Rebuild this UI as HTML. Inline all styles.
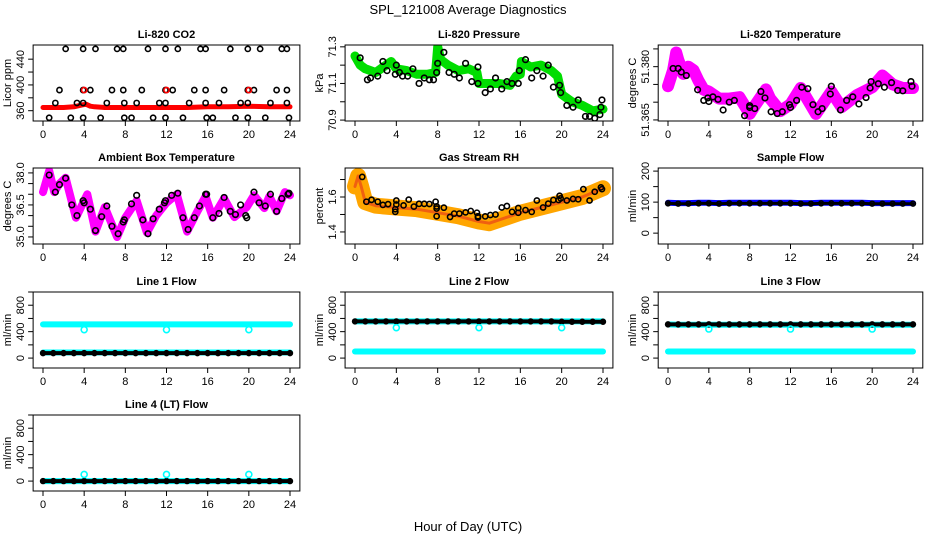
<!DOCTYPE html>
<html><head><meta charset="utf-8">
<style>
html,body{margin:0;padding:0;background:#fff;}
svg{display:block;font-family:"Liberation Sans",sans-serif;}
</style></head>
<body>
<svg id="chart" width="936" height="540" viewBox="0 0 936 540">
<defs id="defs"></defs>
<text x="468" y="14" text-anchor="middle" font-size="13">SPL_121008  Average Diagnostics</text>
<text x="468" y="531" text-anchor="middle" font-size="13">Hour of Day (UTC)</text>
</svg>
<script>
// ---------- data ----------
const hourTicks = [0,4,8,12,16,20,24];
const hourly = [0,1,2,3,4,5,6,7,8,9,10,11,12,13,14,15,16,17,18,19,20,21,22,23,24];

// CO2
const co2LineHours = [0,1,2,3,3.8,4.2,4.6,5,6,8,10,12,14,16,18,20,22,24];
const co2LineVals  = [365,365,365,366,369,370,367,366,365,365,365,365,365,366,366,367,366,366];
const co2TopHours = [2.2,3.9,5.1,7.2,7.8,10.2,11.9,13.1,15.3,15.8,18.2,19.9,21.1,23.2,23.7];
const co2MidHours = [1.6,3.9,4.6,6.7,7.8,9.6,11.9,12.6,14.7,15.8,17.6,19.9,20.5,22.7,23.7];
const co2LowHours = [1.2,3.3,3.9,6.2,7.9,9.1,11.3,11.9,14.2,15.8,17.1,19.2,19.9,22.1,23.7];
const co2BotHours = [0.6,2.7,3.9,5.6,7.9,8.6,10.7,11.9,13.6,15.9,16.5,18.7,19.9,21.6,23.9];
const co2Levels = [456,392,372,349];
const co2RedHours = [4,12,20];

// Pressure
const presBandHours = [0,0.5,1,2,3,3.5,4,5,6,7,7.8,8,8.3,9,10,11,11.8,12,13,14,15,15.6,16,16.1,17,18,19,19.6,20,21,22,23,24];
const presBandVals  = [71.25,71.2,71.18,71.16,71.2,71.22,71.18,71.17,71.15,71.15,71.16,71.3,71.23,71.2,71.17,71.18,71.16,71.1,71.1,71.1,71.09,71.14,71.15,71.22,71.19,71.2,71.17,71.14,71.04,71.0,70.98,70.95,70.96];
const presPtHours = [0.5,1.2,1.5,2.2,2.7,3.1,3.9,4,4.3,4.6,5.1,5.6,6.2,6.7,7.2,7.6,7.9,8,8.6,9.1,9.6,10.1,10.7,11.3,11.9,11.9,12.6,13.1,13.6,14.2,14.7,15.2,15.8,15.9,16.5,17.1,17.6,18.2,18.7,19.2,19.8,19.9,20.5,21.1,21.6,22.3,22.7,23.2,23.7,23.8,23.9];
const presPtVals  = [71.24,71.12,71.13,71.14,71.22,71.17,71.15,71.2,71.16,71.14,71.14,71.18,71.1,71.13,71.12,71.12,71.16,71.21,71.27,71.16,71.15,71.13,71.21,71.11,71.19,71.1,71.05,71.07,71.13,71.07,71.11,71.1,71.1,71.17,71.23,71.13,71.17,71.14,71.2,71.08,71.09,71.05,70.98,70.97,71.01,70.92,70.92,70.91,70.93,70.97,71.01];

// Li-820 temperature
const ltBandHours = [0,0.5,0.8,1,1.5,2,2.5,3,3.5,4,5,6,7,8,8.5,9.6,10,11,12,13,14.5,16,17,18.5,20,21,22,23,24];
const ltBandVals  = [51.3745,51.379,51.384,51.382,51.378,51.380,51.379,51.376,51.3735,51.373,51.371,51.371,51.3714,51.3667,51.369,51.3736,51.371,51.3675,51.3694,51.374,51.3667,51.373,51.3686,51.372,51.3742,51.3775,51.375,51.374,51.374];
const ltPtHours = [0.5,1,1.3,1.8,2.9,3.5,3.9,4,4.4,4.9,5.4,6,6.5,7.5,8,8,8.5,9.1,9.5,10.1,10.7,11.2,11.9,12,12.6,13.1,13.7,14.2,14.7,15.1,15.9,16,16.9,17.5,18.1,18.7,19.4,19.8,19.9,20.6,21.2,21.9,22.5,23,23.8,23.9];
const ltPtVals  = [51.3795,51.3795,51.3785,51.3775,51.3735,51.3705,51.3712,51.3702,51.3715,51.3708,51.3678,51.370,51.3705,51.3662,51.3685,51.369,51.3682,51.373,51.3712,51.3673,51.3668,51.3673,51.3693,51.3685,51.3705,51.3742,51.3738,51.3693,51.3673,51.3682,51.3723,51.3745,51.3678,51.3705,51.3715,51.3695,51.3713,51.374,51.3758,51.3752,51.3742,51.3755,51.3733,51.3732,51.3758,51.3745];

// Ambient box temperature
const abBandHours = [0,0.6,1.1,1.6,2.2,3.2,4.3,5.1,6,7.2,8,9.1,10.1,11,12,13,14,15,15.8,16.5,17.6,18.6,19.8,20.5,21.5,22,22.7,23.5,24];
const abBandVals  = [37.1,38.1,37.1,37.5,37.77,35.9,37.0,35.25,36.4,35.0,35.9,36.7,35.2,36.0,36.6,37.0,35.25,36.2,36.9,35.9,36.8,35.93,36.4,36.95,36.35,36.9,36.2,37.1,36.95];
const abPtHours = [0.6,1.2,1.6,2.2,2.8,3.3,3.9,4,4.6,5.1,5.7,6.2,6.7,7.3,7.8,7.9,8.6,9.1,9.7,10.2,10.7,11.3,11.8,11.9,12.5,13.1,13.6,14.1,14.7,15.2,15.8,15.9,16.5,17.1,17.6,18.2,18.7,19.2,19.7,19.8,20.5,21,21.6,22.1,22.7,23.2,23.8,23.9];
const abPtVals  = [37.9,37.1,37.45,37.75,36.5,36.0,36.7,36.6,36.3,35.3,35.95,36.45,35.5,35.15,35.7,35.8,36.55,36.95,35.8,35.15,35.85,36.3,36.6,36.7,36.95,37.05,35.9,35.35,35.9,36.45,37.0,37.0,35.9,36.1,36.85,36.2,36.05,36.5,36.0,35.9,37.1,36.6,36.45,37.0,36.2,36.8,37.0,37.05];

// Gas stream RH
const rhBandHours = [0,0.3,0.6,1,2,4,6,8,10,12,13,14,16,18,20,22,24];
const rhBandVals  = [1.66,1.72,1.66,1.57,1.55,1.54,1.53,1.51,1.49,1.46,1.45,1.47,1.51,1.54,1.57,1.6,1.65];
const rhPtHours = [0.7,1.1,1.6,2.2,2.7,3.2,3.9,3.9,4,4,4.7,5.2,5.7,6.2,6.7,7.2,7.8,7.9,7.9,7.9,8.6,9.2,9.6,10.1,10.7,11.2,11.8,11.9,11.9,12.6,13.1,13.6,14.2,14.7,15.2,15.8,15.8,16.5,17.1,17.6,18.2,18.7,19.2,19.7,19.8,19.9,20.5,21.1,21.6,22.1,22.7,23.2,23.8,23.9];
const rhPtVals  = [1.715,1.573,1.584,1.573,1.555,1.559,1.53,1.515,1.58,1.557,1.552,1.585,1.545,1.561,1.561,1.56,1.573,1.546,1.534,1.49,1.539,1.486,1.505,1.505,1.512,1.52,1.51,1.483,1.49,1.489,1.497,1.5,1.54,1.548,1.515,1.537,1.51,1.525,1.515,1.58,1.54,1.562,1.583,1.583,1.607,1.592,1.58,1.589,1.587,1.645,1.58,1.63,1.655,1.645];

// Sample flow (hourly)
const sampleBlue  = [98,97,97,98,98,97,98,98,98,98,98,98,98,97,97,98,98,98,98,98,97,97,97,97,97];
const sampleBlack = [96,95,95,96,96,95,96,96,96,96,96,96,96,95,95,96,96,96,96,96,95,95,95,95,95];

// Line flows (hourly)
const l1CyanHigh = [510,510,510,510,510,510,510,510,510,510,510,510,510,510,510,510,510,510,510,510,510,510,510,510,510];
const l1CyanLow  = [85,85,85,85,85,85,85,85,85,85,85,85,85,85,85,85,85,85,85,85,85,85,85,85,85];
const l1Black    = [75,75,75,75,75,75,75,75,75,75,75,75,75,75,75,75,75,75,75,75,75,75,75,75,75];
const l1DipVals  = [430,430,430];
const l2CyanHigh = [555,555,555,555,555,555,555,555,555,555,555,555,555,555,555,555,555,555,555,555,555,555,555,555,555];
const l2CyanLow  = [100,100,100,100,100,100,100,100,100,100,100,100,100,100,100,100,100,100,100,100,100,100,100,100,100];
const l2Black    = [555,555,555,555,555,555,555,555,555,555,555,555,555,555,555,555,555,555,555,555,550,550,550,550,550];
const l2DipVals  = [460,460,460];
const l3CyanHigh = [510,505,505,505,505,505,505,505,505,505,505,505,505,505,505,505,505,505,505,505,505,505,505,505,505];
const l3CyanLow  = [100,100,100,100,100,100,100,100,100,100,100,100,100,100,100,100,100,100,100,100,100,100,100,100,100];
const l3Black    = [510,510,510,510,510,510,510,510,510,510,510,510,510,510,510,510,510,510,510,510,510,510,510,510,510];
const l3DipVals  = [440,440,440];
const l4Cyan     = [0,0,0,0,0,0,0,0,0,0,0,0,0,0,0,0,0,0,0,0,0,0,0,0,0];
const l4Black    = [0,0,0,0,0,0,0,0,0,0,0,0,0,0,0,0,0,0,0,0,0,0,0,0,0];
const l4SpikeVals = [100,100,100];
const dipHours = [4,12,20];

// ---------- drawing ----------
const svg = document.getElementById('chart');
const defs = document.getElementById('defs');
const NS = 'http://www.w3.org/2000/svg';
function mk(tag, attrs, parent){
  const e = document.createElementNS(NS, tag);
  for (const k in attrs) e.setAttribute(k, attrs[k]);
  (parent||svg).appendChild(e);
  return e;
}
const cols = [{x0:43,x24:290},{x0:355,x24:603},{x0:668,x24:913}];
const rows = [45,168,292,415];
const H = 76;
let clipId = 0;

function panel(name, col, row, ymin, ymax, ticks, labels, ylab, title){
  const c = cols[col], T = rows[row];
  const span = c.x24 - c.x0;
  const L = c.x0 - span*0.04, R = c.x24 + span*0.04;
  const g = mk('g', {});
  
  
  const sx = h => c.x0 + h*span/24;
  const sy = v => T + (ymax - v)/(ymax - ymin)*H;
  const t = mk('text', {x:(L+R)/2, y:T-7, 'text-anchor':'middle', 'font-size':11, 'font-weight':'bold'}, g);
  t.textContent = title;
  
  
  const id = 'clip' + (clipId++);
  const cp = mk('clipPath', {id:id}, defs);
  mk('rect', {x:L, y:T, width:R-L, height:H}, cp);
  const clip = mk('g', {'clip-path':`url(#${id})`}, g);
  
  
  const box = mk('rect', {x:L, y:T, width:R-L, height:H, fill:'none', stroke:'#000', 'stroke-width':1}, g);
  
  
  const xa = mk('g', {}, g);
  
  
  hourTicks.forEach(h => {
    mk('line', {x1:sx(h), x2:sx(h), y1:T+H, y2:T+H+5, stroke:'#000'}, xa);
    const tl = mk('text', {x:sx(h), y:T+H+17, 'text-anchor':'middle', 'font-size':11}, xa);
    tl.textContent = h;
  });
  const ya = mk('g', {}, g);
  
  
  ticks.forEach((v,i) => {
    mk('line', {x1:L-5, x2:L, y1:sy(v), y2:sy(v), stroke:'#000'}, ya);
    if (labels[i] !== '') {
      const yl = mk('text', {x:0, y:0, 'text-anchor':'middle', 'font-size':11, transform:`translate(${L-9},${sy(v)}) rotate(-90)`}, ya);
      yl.textContent = labels[i];
    }
  });
  const yt = mk('text', {x:0, y:0, 'text-anchor':'middle', 'font-size':11, transform:`translate(${L-22},${T+H/2}) rotate(-90)`}, g);
  yt.textContent = ylab;
  
  
  return {g:clip, sx, sy};
}
function band(p, hs, vs, color, w, name){
  const pts = hs.map((h,i)=>p.sx(h).toFixed(1)+','+p.sy(vs[i]).toFixed(1)).join(' ');
  const e = mk('polyline', {points:pts, fill:'none', stroke:color, 'stroke-width':w, 'stroke-linejoin':'round', 'stroke-linecap':'round'}, p.g);
  
  
}
function pts(p, hs, vs, color, r, name){
  const g = mk('g', {}, p.g);
  
  
  hs.forEach((h,i)=> mk('circle', {cx:p.sx(h), cy:p.sy(vs[i]), r:r, fill:'none', stroke:color, 'stroke-width':1.6}, g));
}

// CO2
let p = panel('panel-co2',0,0,344,462,[360,380,400,420,440],['360','','400','','440'],'Licor ppm','Li-820 CO2');
band(p, co2LineHours, co2LineVals, '#ff0000', 5, 'co2-series');
pts(p, co2TopHours, co2TopHours.map(()=>co2Levels[0]), '#000', 2.6, 'co2-points-top');
pts(p, co2MidHours, co2MidHours.map(()=>co2Levels[1]), '#000', 2.6, 'co2-points-mid');
pts(p, co2LowHours, co2LowHours.map(()=>co2Levels[2]), '#000', 2.6, 'co2-points-low');
pts(p, co2BotHours, co2BotHours.map(()=>co2Levels[3]), '#000', 2.6, 'co2-points-bottom');
pts(p, co2RedHours, co2RedHours.map(()=>co2Levels[1]), '#ff0000', 2.6, 'co2-red-points');

// Pressure
p = panel('panel-pressure',1,0,70.895,71.31,[70.9,71.0,71.1,71.2,71.3],['70.9','','71.1','','71.3'],'kPa','Li-820 Pressure');
band(p, presBandHours, presBandVals, '#00dd00', 9, 'pressure-series');
pts(p, presPtHours, presPtVals, '#000', 2.8, 'pressure-points');

// Li temp
p = panel('panel-li-temperature',2,0,51.3647,51.3861,[51.365,51.370,51.375,51.380,51.385],['51.365','','','51.380',''],'degrees C','Li-820 Temperature');
band(p, ltBandHours, ltBandVals, '#ff00ff', 12, 'li-temperature-series');
pts(p, ltPtHours, ltPtVals, '#000', 2.8, 'li-temperature-points');

// Ambient
p = panel('panel-ambient-temperature',0,1,34.67,38.23,[35.0,35.5,36.0,36.5,37.0,37.5,38.0],['35.0','','','36.5','','','38.0'],'degrees C','Ambient Box Temperature');
band(p, abBandHours, abBandVals, '#ff00ff', 8, 'ambient-temperature-series');
pts(p, abPtHours, abPtVals, '#000', 2.8, 'ambient-temperature-points');

// RH
p = panel('panel-gas-rh',1,1,1.331,1.766,[1.4,1.5,1.6,1.7],['1.4','','1.6',''],'percent','Gas Stream RH');
band(p, rhBandHours, rhBandVals, '#ffa500', 16, 'rh-series');
band(p, rhBandHours, rhBandVals, '#f06010', 3, 'rh-series-core');
pts(p, rhPtHours, rhPtVals, '#000', 2.6, 'rh-points');

// Sample flow
p = panel('panel-sample-flow',2,1,-35,210,[0,50,100,150,200],['0','','100','','200'],'ml/min','Sample Flow');
band(p, hourly, sampleBlue, '#0000ff', 6, 'sample-flow-blue');
band(p, hourly, sampleBlack, '#000', 3, 'sample-flow-black-line');
pts(p, hourly, sampleBlack, '#000', 2.4, 'sample-flow-black');

const fT = [0,200,400,600,800,1000], fL = ['0','','400','','800',''];
function flowPanel(name,col,row,title,hi,lo,bl,dipVals){
  const q = panel(name,col,row,-150,1000,fT,fL,'ml/min',title);
  if (hi) band(q, hourly, hi, '#00ffff', 6, 'cyan-high-series');
  if (lo) band(q, hourly, lo, '#00ffff', 6, 'cyan-low-series');
  band(q, hourly, bl, '#000', 4, 'black-series');
  pts(q, hourly, bl, '#000', 2.4, 'black-points');
  pts(q, dipHours, dipVals, '#00ffff', 3, 'cyan-outliers');
}
flowPanel('panel-line1-flow',0,2,'Line 1 Flow',l1CyanHigh,l1CyanLow,l1Black,l1DipVals);
flowPanel('panel-line2-flow',1,2,'Line 2 Flow',l2CyanHigh,l2CyanLow,l2Black,l2DipVals);
flowPanel('panel-line3-flow',2,2,'Line 3 Flow',l3CyanHigh,l3CyanLow,l3Black,l3DipVals);
flowPanel('panel-line4-flow',0,3,'Line 4 (LT) Flow',l4Cyan,null,l4Black,l4SpikeVals);
</script>
</body></html>
